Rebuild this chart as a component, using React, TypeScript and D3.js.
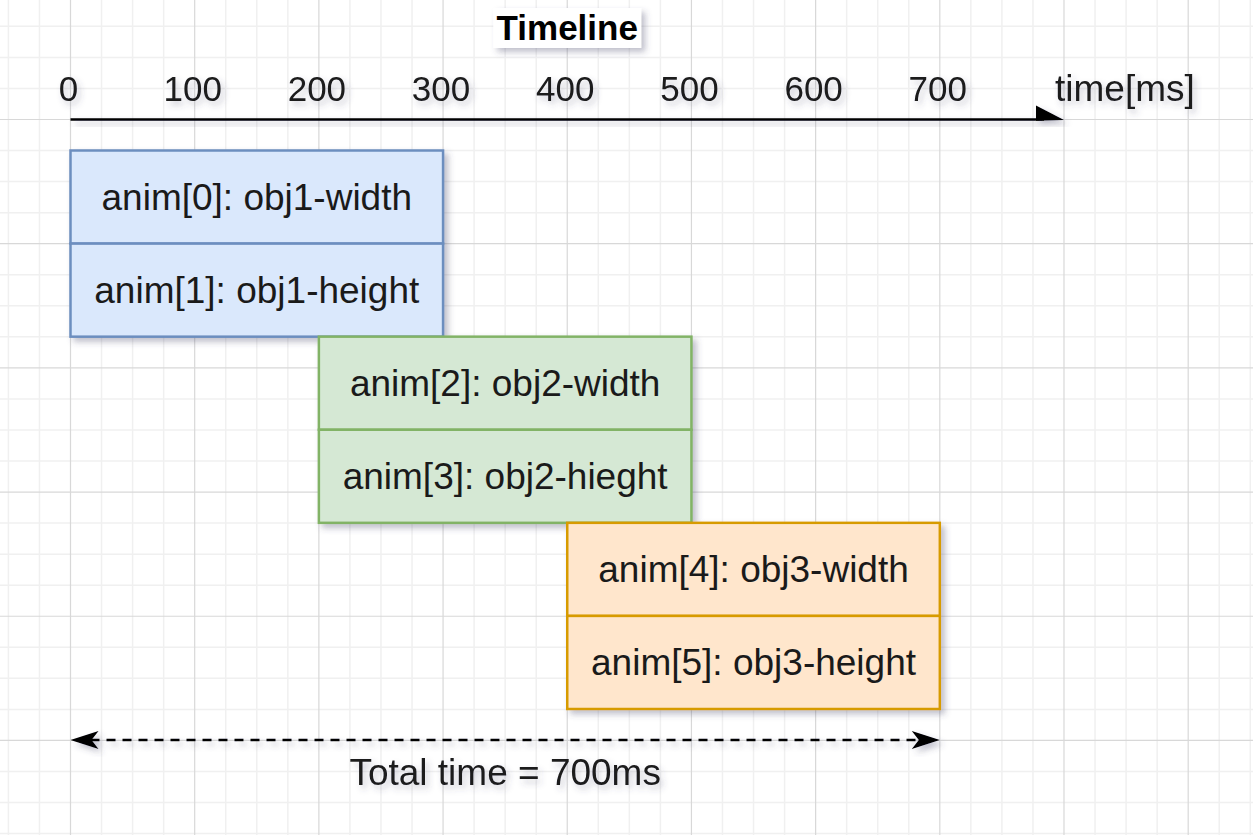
import React from "react";
import * as d3 from "d3";

const W = 1253;
const H = 835;

const ticks = [0, 100, 200, 300, 400, 500, 600, 700];
const axisEnd = 800;
const axisUnit = "time[ms]";
const title = "Timeline";

const animLabels = [
  "anim[0]: obj1-width",
  "anim[1]: obj1-height",
  "anim[2]: obj2-width",
  "anim[3]: obj2-hieght",
  "anim[4]: obj3-width",
  "anim[5]: obj3-height",
];
const animStart = [0, 0, 200, 200, 400, 400];
const animDuration = [300, 300, 300, 300, 300, 300];
const animGroup = [0, 0, 1, 1, 2, 2];

const groupFill = ["#dae8fc", "#d5e8d4", "#ffe6cc"];
const groupStroke = ["#6c8ebf", "#82b366", "#d79b00"];

const totalTime = 700;
const totalLabel = "Total time = 700ms";

const FONT = "'Liberation Sans', Arial, Helvetica, sans-serif";

export default function App() {
  const x = d3.scaleLinear().domain([0, axisEnd]).range([70.5, 1064]);
  const row = d3.scaleLinear().domain([0, 6]).range([150.5, 709]);
  const rowH = row(1) - row(0);

  // grid
  const cell = (x(100) - x(0)) / 4;
  const vLines = d3.range(-3, 45).map((k) => ({ p: x(0) + k * cell, major: k % 4 === 0 }));
  const hLines = d3.range(-4, 28).map((k) => ({ p: 119.5 + k * cell, major: k % 4 === 0 }));

  const axisY = 119.5;
  const dashY = 740;

  const classicHead = (tipX: number, y: number, dir: number) => {
    const L = 28, hw = 9, notch = 7;
    const b = tipX - dir * L;
    return `M${tipX},${y} L${b},${y - hw} L${b + dir * notch},${y} L${b},${y + hw} Z`;
  };

  return (
    <svg
      width={W}
      height={H}
      style={{ position: "absolute", left: 0, top: 0, background: "#fff" }}
      fontFamily={FONT}
    >
      <defs>
        <filter id="shadow" x="-20%" y="-20%" width="150%" height="160%">
          <feDropShadow dx="4" dy="4" stdDeviation="3" floodColor="#4a4a6a" floodOpacity="0.35" />
        </filter>
        <filter id="tshadow" x="-20%" y="-40%" width="150%" height="200%">
          <feDropShadow dx="3" dy="4" stdDeviation="3" floodColor="#4a4a6a" floodOpacity="0.3" />
        </filter>
      </defs>
      <rect width={W} height={H} fill="#fff" />
      <g>
        {vLines.filter((l) => !l.major).map((l, i) => (
          <line key={"vm" + i} x1={l.p} x2={l.p} y1={0} y2={H} stroke="#f0f0f0" strokeWidth={1.5} />
        ))}
        {hLines.filter((l) => !l.major).map((l, i) => (
          <line key={"hm" + i} y1={l.p} y2={l.p} x1={0} x2={W} stroke="#f0f0f0" strokeWidth={1.5} />
        ))}
        {vLines.filter((l) => l.major).map((l, i) => (
          <line key={"vM" + i} x1={l.p} x2={l.p} y1={0} y2={H} stroke="#d8d8d8" strokeWidth={1.2} />
        ))}
        {hLines.filter((l) => l.major).map((l, i) => (
          <line key={"hM" + i} y1={l.p} y2={l.p} x1={0} x2={W} stroke="#d8d8d8" strokeWidth={1.2} />
        ))}
      </g>

      {/* Title */}
      <g filter="url(#shadow)">
        <rect x={x(400) - 74} y={8} width={148} height={40} fill="#fff" />
      </g>
      <text x={x(400)} y={40} textAnchor="middle" fontWeight="bold" fontSize={35} fill="#000">
        {title}
      </text>

      {/* Axis */}
      <g filter="url(#tshadow)">
        {ticks.map((t) => (
          <text key={t} x={x(t) - 2} y={101} textAnchor="middle" fontSize={35} fill="#1a1a1a">
            {t}
          </text>
        ))}
        <text x={x(axisEnd) - 9} y={101} fontSize={37} fill="#1a1a1a">
          {axisUnit}
        </text>
      </g>
      <g filter="url(#shadow)">
        <line x1={x(0)} x2={x(axisEnd) - 20} y1={axisY} y2={axisY} stroke="#000" strokeWidth={2.5} />
        <path
          d={`M${x(axisEnd) - 28},${axisY - 14} L${x(axisEnd)},${axisY + 0.5} L${x(axisEnd) - 28},${axisY + 1.2} Z`}
          fill="#000"
        />
      </g>

      {/* Boxes */}
      <g filter="url(#shadow)">
        {animLabels.map((lab, i) => (
          <rect
            key={lab}
            x={x(animStart[i])}
            y={row(i)}
            width={x(animStart[i] + animDuration[i]) - x(animStart[i])}
            height={rowH}
            fill={groupFill[animGroup[i]]}
            stroke={groupStroke[animGroup[i]]}
            strokeWidth={2.5}
          />
        ))}
      </g>
      {animLabels.map((lab, i) => (
        <text
          key={"t" + lab}
          x={(x(animStart[i]) + x(animStart[i] + animDuration[i])) / 2}
          y={row(i) + rowH / 2 + 13}
          textAnchor="middle"
          fontSize={37}
          fill="#1a1a1a"
        >
          {lab}
        </text>
      ))}

      {/* Total time arrow */}
      <g filter="url(#shadow)">
        <line
          x1={x(0) + 20}
          x2={x(totalTime) - 20}
          y1={dashY}
          y2={dashY}
          stroke="#000"
          strokeWidth={2.5}
          strokeDasharray="9 7"
        />
        <path d={classicHead(x(0), dashY, -1)} fill="#000" />
        <path d={classicHead(x(totalTime), dashY, 1)} fill="#000" />
      </g>
      <text
        x={x(totalTime / 2)}
        y={785}
        textAnchor="middle"
        fontSize={37}
        fill="#1a1a1a"
        filter="url(#tshadow)"
      >
        {totalLabel}
      </text>
    </svg>
  );
}
